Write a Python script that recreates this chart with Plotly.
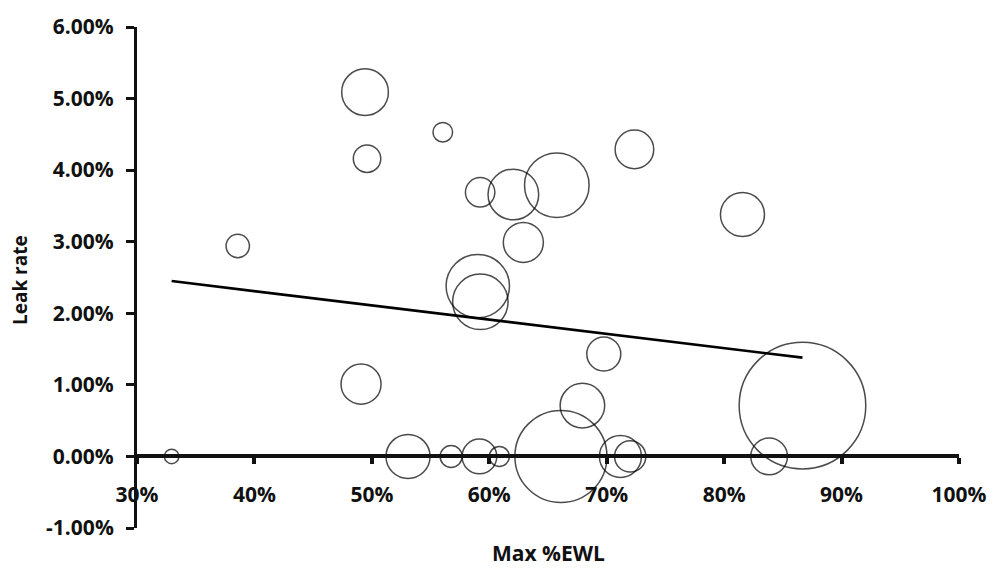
import plotly.graph_objects as go

# Bubble data (fractions for percentage axes)
max_ewl = [0.4942, 0.5604, 0.4959, 0.3858, 0.5922, 0.6205, 0.6575, 0.6290, 0.5902, 0.5924,
           0.3295, 0.4908, 0.5308, 0.5675, 0.5916, 0.6086, 0.6610, 0.7236, 0.8156, 0.6975,
           0.6793, 0.7117, 0.7200, 0.8383, 0.8667]
leak_rate = [0.0509, 0.0453, 0.0416, 0.0294, 0.0369, 0.0366, 0.0379, 0.0299, 0.0238, 0.0216,
             0.0000, 0.0101, 0.0000, 0.0000, 0.0000, 0.0000, 0.0000, 0.0429, 0.0338, 0.0143,
             0.0071, 0.0000, 0.0000, 0.0000, 0.0071]
bubble_size = [13.6, 2.4, 4.7, 3.4, 5.4, 16.0, 26.0, 10.0, 25.1, 19.2,
               1.3, 10.0, 12.1, 3.0, 7.5, 2.5, 52.9, 9.3, 12.1, 7.2,
               12.4, 11.0, 6.1, 8.4, 100.0]

# Linear trend line endpoints
trend_x = [0.3295, 0.8667]
trend_y = [0.0245, 0.0138]

x_tick_vals = [0.3, 0.4, 0.5, 0.6, 0.7, 0.8, 0.9, 1.0]
x_tick_text = ["30%", "40%", "50%", "60%", "70%", "80%", "90%", "100%"]
y_tick_vals = [-0.01, 0.0, 0.01, 0.02, 0.03, 0.04, 0.05, 0.06]
y_tick_text = ["-1.00%", "0.00%", "1.00%", "2.00%", "3.00%", "4.00%", "5.00%", "6.00%"]

max_diam = 126.6
sizeref = 2.0 * max(bubble_size) / (max_diam ** 2)

ink = "#111111"
tick_font = dict(family="Open Sans", size=21, color=ink, weight="bold")

fig = go.Figure()
fig.add_trace(go.Scatter(
    x=max_ewl, y=leak_rate, mode="markers",
    marker=dict(size=bubble_size, sizemode="area", sizeref=sizeref,
                color="rgba(0,0,0,0)", line=dict(color="#000000", width=1.5)),
    showlegend=False, hoverinfo="skip",
))
fig.add_trace(go.Scatter(
    x=trend_x, y=trend_y, mode="lines",
    line=dict(color="#000000", width=2.6), showlegend=False, hoverinfo="skip",
))

fig.update_layout(
    width=1002, height=571,
    margin=dict(l=137, r=43, t=19, b=43, pad=0),
    paper_bgcolor="white", plot_bgcolor="white",
    xaxis=dict(range=[0.3, 1.0], tickvals=x_tick_vals, ticktext=x_tick_text,
               showgrid=False, zeroline=False, showline=True, linecolor=ink, linewidth=4,
               ticks="outside", ticklen=6, tickwidth=4, tickcolor=ink,
               anchor="free", position=1/7, tickfont=tick_font, ticklabelstandoff=12),
    yaxis=dict(range=[-0.01, 0.06], tickvals=y_tick_vals, ticktext=y_tick_text,
               showgrid=False, zeroline=False, showline=True, linecolor=ink, linewidth=3,
               ticks="outside", ticklen=8, tickwidth=3, tickcolor=ink,
               tickfont=tick_font, ticklabelstandoff=8),
    annotations=[
        dict(text="Max %EWL", xref="paper", yref="paper", x=0.5, y=-0.0825,
             xanchor="center", yanchor="bottom", showarrow=False,
             font=dict(family="Open Sans", size=21, color=ink, weight="bold")),
        dict(text="Leak rate", xref="paper", yref="paper", x=-0.1423, y=0.495,
             xanchor="center", yanchor="middle", textangle=-90, showarrow=False,
             font=dict(family="Open Sans", size=19, color=ink, weight="bold")),
    ],
)

fig.write_html("out.html", config={"displayModeBar": False},
               post_script="document.body.style.margin='0px';")
